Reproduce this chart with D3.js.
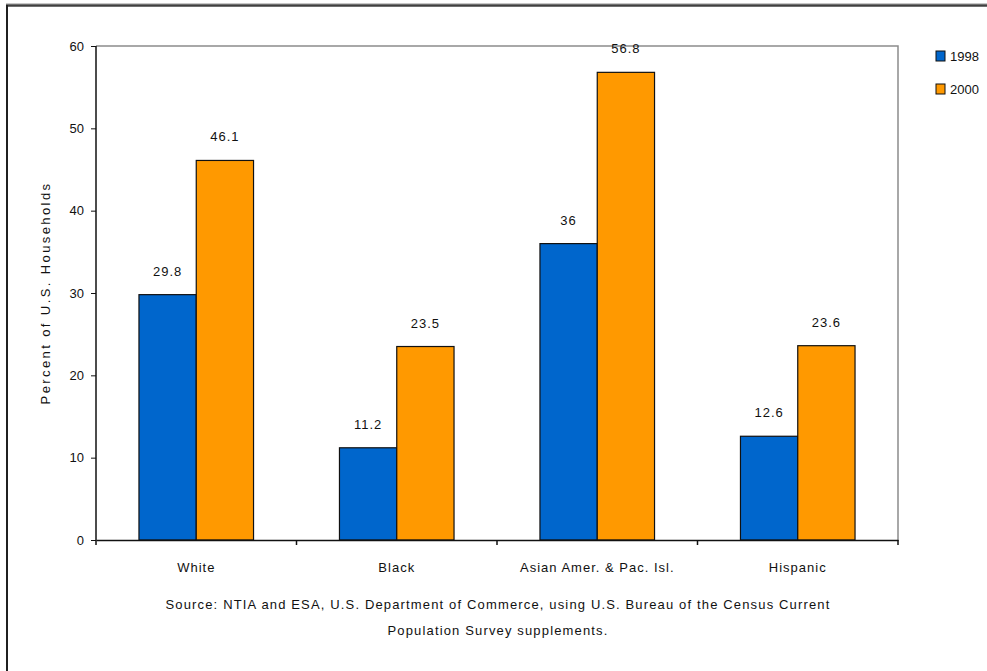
<!DOCTYPE html>
<html>
<head>
<meta charset="utf-8">
<script src="https://cdn.jsdelivr.net/npm/d3@7"></script>
<style>
  body { margin: 0; background: #fff; }
  svg text { font-family: "Liberation Sans", Arial, sans-serif; fill: #111; }
</style>
</head>
<body>
<div id="chart"></div>
<script>
const categories = ['White', 'Black', 'Asian Amer. & Pac. Isl.', 'Hispanic'];
const seriesNames = ['1998', '2000'];
const values1998 = [29.8, 11.2, 36, 12.6];
const values2000 = [46.1, 23.5, 56.8, 23.6];
const yTicks = [0, 10, 20, 30, 40, 50, 60];
const seriesColors = ['#0066cc', '#ff9900'];

const width = 987, height = 671;
const plot = { left: 96, right: 898, top: 46, bottom: 540 };

const svg = d3.select('#chart').append('svg')
  .attr('width', width)
  .attr('height', height);

// outer frame (top and left edges visible)
svg.append('line').attr('x1', 6).attr('x2', width).attr('y1', 3.5).attr('y2', 3.5)
  .attr('stroke', '#c8c8c8').attr('stroke-width', 1);
svg.append('line').attr('x1', 6).attr('x2', width).attr('y1', 5.5).attr('y2', 5.5)
  .attr('stroke', '#404040').attr('stroke-width', 2.5);
svg.append('line').attr('x1', 7).attr('x2', 7).attr('y1', 5).attr('y2', height)
  .attr('stroke', '#202020').attr('stroke-width', 2);

const x = d3.scaleBand().domain(categories).range([plot.left, plot.right]);
const bw = x.bandwidth();
const x1 = d3.scaleBand().domain(seriesNames)
  .range([bw * 0.75 / 3.5, bw - bw * 0.75 / 3.5]);
const y = d3.scaleLinear().domain([0, 60]).range([plot.bottom, plot.top]);
const color = d3.scaleOrdinal().domain(seriesNames).range(seriesColors);

// plot area border (top & right)
svg.append('path')
  .attr('d', `M${plot.left},${plot.top}H${plot.right}V${plot.bottom}`)
  .attr('fill', 'none').attr('stroke', '#8c8c8c').attr('stroke-width', 1.5);

const data = categories.map((c, i) => ({
  category: c,
  values: [
    { series: '1998', value: values1998[i] },
    { series: '2000', value: values2000[i] }
  ]
}));

const groups = svg.selectAll('.group')
  .data(data)
  .enter()
  .append('g')
  .attr('class', 'group')
  .attr('transform', d => `translate(${x(d.category)},0)`);

groups.selectAll('rect')
  .data(d => d.values)
  .enter()
  .append('rect')
  .attr('x', d => x1(d.series))
  .attr('y', d => y(d.value))
  .attr('width', x1.bandwidth())
  .attr('height', d => y(0) - y(d.value))
  .attr('fill', d => color(d.series))
  .attr('stroke', '#111')
  .attr('stroke-width', 1.2);

groups.selectAll('.value-label')
  .data(d => d.values)
  .enter()
  .append('text')
  .attr('class', 'value-label')
  .attr('x', d => x1(d.series) + x1.bandwidth() / 2)
  .attr('y', d => y(d.value) - 19)
  .attr('text-anchor', 'middle')
  .style('font-size', '13px')
  .style('letter-spacing', '1px')
  .text(d => String(d.value));

// y axis
const yAxis = svg.append('g')
  .attr('transform', `translate(${plot.left},0)`)
  .call(d3.axisLeft(y).tickValues(yTicks).tickSize(5).tickSizeOuter(0).tickPadding(7));
yAxis.select('.domain').attr('stroke', '#111').attr('stroke-width', 1.5)
  .attr('d', `M0,${plot.top}V${plot.bottom + 5}`);
yAxis.selectAll('.tick line').attr('stroke', '#111');
yAxis.selectAll('text').style('font-size', '13px').style('fill', '#111');

// x axis
const xAxis = svg.append('g')
  .attr('transform', `translate(0,${plot.bottom})`)
  .call(d3.axisBottom(x).tickSize(0).tickPadding(23));
xAxis.select('.domain').attr('stroke', '#111').attr('stroke-width', 1.5);
xAxis.selectAll('text').style('font-size', '13px').style('letter-spacing', '1px').style('fill', '#111');
xAxis.selectAll('.boundary')
  .data(categories.slice(1).concat([null]))
  .enter()
  .append('line')
  .attr('class', 'boundary')
  .attr('x1', d => d === null ? plot.right : x(d))
  .attr('x2', d => d === null ? plot.right : x(d))
  .attr('y1', 0)
  .attr('y2', 5)
  .attr('stroke', '#111')
  .attr('stroke-width', 1.5);

// y axis title
svg.append('text')
  .attr('transform', `translate(50,${(plot.top + plot.bottom) / 2}) rotate(-90)`)
  .attr('text-anchor', 'middle')
  .style('font-size', '13px')
  .style('letter-spacing', '2.4px')
  .text('Percent of U.S. Households');

// source note
svg.append('text')
  .attr('x', 498).attr('y', 609)
  .attr('text-anchor', 'middle')
  .style('font-size', '13px')
  .style('letter-spacing', '1.15px')
  .text('Source: NTIA and ESA, U.S. Department of Commerce, using U.S. Bureau of the Census Current');
svg.append('text')
  .attr('x', 498).attr('y', 635)
  .attr('text-anchor', 'middle')
  .style('font-size', '13px')
  .style('letter-spacing', '1.15px')
  .text('Population Survey supplements.');

// legend
const legend = svg.selectAll('.legend')
  .data(seriesNames)
  .enter()
  .append('g')
  .attr('class', 'legend')
  .attr('transform', (d, i) => `translate(936,${51 + i * 33})`);
legend.append('rect')
  .attr('width', 9).attr('height', 10)
  .attr('fill', d => color(d))
  .attr('stroke', '#111').attr('stroke-width', 1);
legend.append('text')
  .attr('x', 14).attr('y', 9.5)
  .style('font-size', '13px')
  .text(d => d);
</script>
</body>
</html>
